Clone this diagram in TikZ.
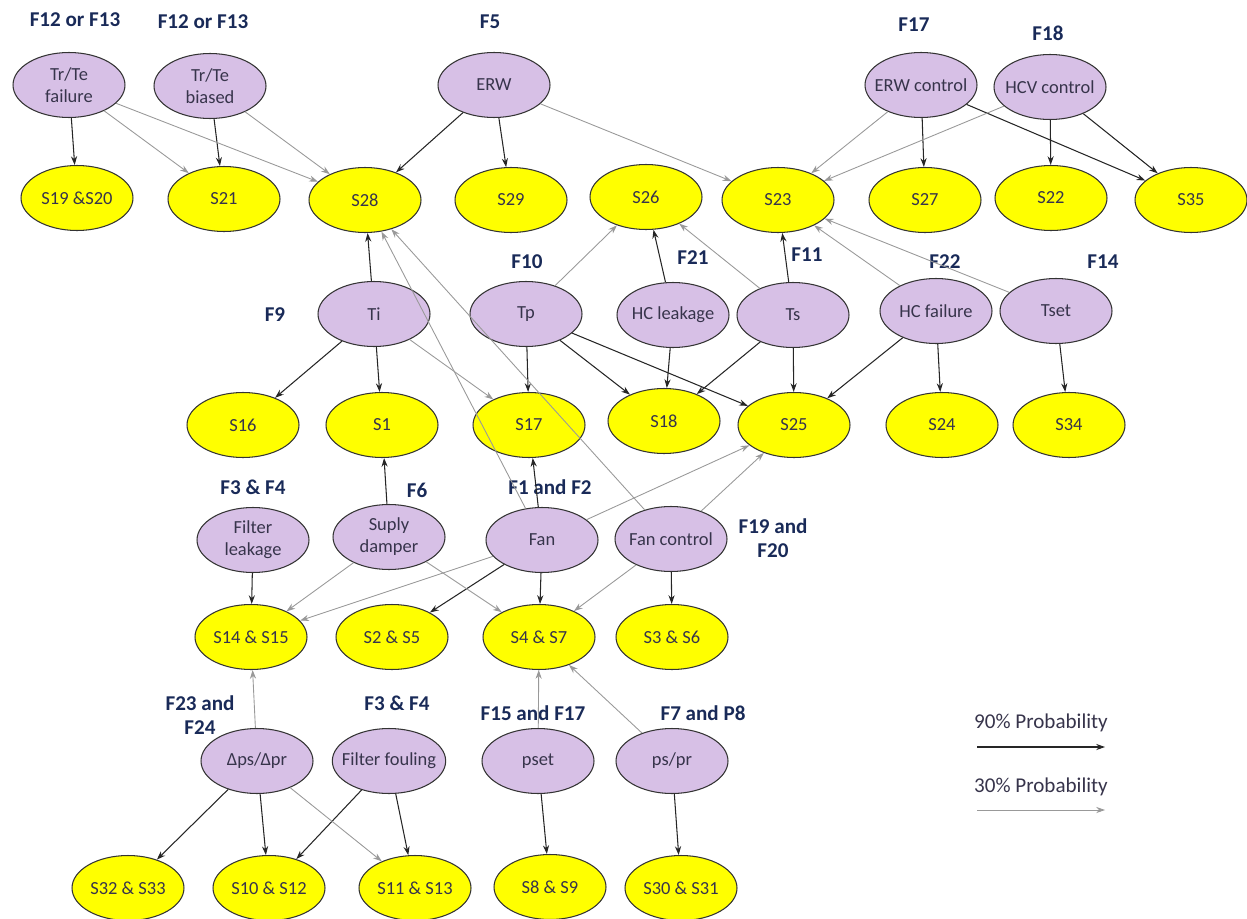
\documentclass[tikz,border=0pt]{standalone}
\usepackage{fontspec}
\setmainfont{Carlito}
\usetikzlibrary{shapes.geometric,arrows.meta}
\definecolor{faultfill}{RGB}{215,192,230}
\definecolor{symfill}{RGB}{255,255,0}
\definecolor{labelblue}{RGB}{25,42,88}
\definecolor{nodetext}{RGB}{55,52,75}
\begin{document}
\begin{tikzpicture}[x=0.02cm,y=-0.02cm,
  fault/.style={ellipse,draw=black!80,fill=faultfill,line width=0.6pt,
    minimum width=2.24cm,minimum height=1.3cm,inner sep=0pt,inner xsep=-4pt,
    align=center,text=nodetext,font=\fontsize{10.5}{12.5}\selectfont},
  symptom/.style={fault,fill=symfill},
  flabel/.style={font=\bfseries\fontsize{12}{14}\selectfont,text=labelblue,align=center},
  p90/.style={-{Stealth[length=5pt,width=3.5pt]},line width=0.6pt,draw=black!85},
  p30/.style={-{Stealth[length=5pt,width=3.5pt]},line width=0.5pt,draw=black!40}]
  \useasboundingbox (0,0) rectangle (1247,919);

  % faults
  \node[fault] (trfail) at (69,85) {Tr/Te\\failure};
  \node[fault] (trbias) at (210,86) {Tr/Te\\biased};
  \node[fault] (erw) at (494,85) {ERW};
  \node[fault] (erwctl) at (921,85) {ERW control};
  \node[fault] (hcvctl) at (1050,87) {HCV control};
  \node[fault] (ti) at (374,314) {Ti};
  \node[fault] (tp) at (526,314) {Tp};
  \node[fault] (hcleak) at (673,315) {HC leakage};
  \node[fault] (ts) at (793,315) {Ts};
  \node[fault] (hcfail) at (936,311) {HC failure};
  \node[fault] (tset) at (1056,311) {Tset};
  \node[fault] (filtleak) at (253,540) {Filter\\leakage};
  \node[fault] (damper) at (389,537) {Suply\\damper};
  \node[fault] (fan) at (542,540) {Fan};
  \node[fault] (fanctl) at (671,539) {Fan control};
  \node[fault] (dp) at (257,761) {Δps/Δpr};
  \node[fault] (filtfoul) at (389,761) {Filter fouling};
  \node[fault] (pset) at (538,761) {pset};
  \node[fault] (pspr) at (672,761) {ps/pr};

  % symptoms
  \node[symptom] (s1920) at (77,198) {S19 \&S20};
  \node[symptom] (s21) at (224,199) {S21};
  \node[symptom] (s28) at (365,200) {S28};
  \node[symptom] (s29) at (511,200) {S29};
  \node[symptom] (s26) at (646,197) {S26};
  \node[symptom] (s23) at (778,200) {S23};
  \node[symptom] (s27) at (925,200) {S27};
  \node[symptom] (s22) at (1051,198) {S22};
  \node[symptom] (s35) at (1191,200) {S35};
  \node[symptom] (s16) at (243,425) {S16};
  \node[symptom] (s1) at (382,425) {S1};
  \node[symptom] (s17) at (529,425) {S17};
  \node[symptom] (s18) at (664,421) {S18};
  \node[symptom] (s25) at (794,425) {S25};
  \node[symptom] (s24) at (942,425) {S24};
  \node[symptom] (s34) at (1069,425) {S34};
  \node[symptom] (s1415) at (251,637) {S14 \& S15};
  \node[symptom] (s0205) at (392,637) {S2 \& S5};
  \node[symptom] (s0407) at (539,637) {S4 \& S7};
  \node[symptom] (s0306) at (672,637) {S3 \& S6};
  \node[symptom] (s3233) at (128,888) {S32 \& S33};
  \node[symptom] (s1012) at (269,888) {S10 \& S12};
  \node[symptom] (s1113) at (415,888) {S11 \& S13};
  \node[symptom] (s0809) at (550,887) {S8 \& S9};
  \node[symptom] (s3031) at (681,888) {S30 \& S31};

  % fault labels
  \node[flabel] (l1) at (75,20) {F12 or F13};
  \node[flabel] (l2) at (203,22) {F12 or F13};
  \node[flabel] (l3) at (490,22) {F5};
  \node[flabel] (l4) at (914,25) {F17};
  \node[flabel] (l5) at (1048,33) {F18};
  \node[flabel] (l6) at (275,315) {F9};
  \node[flabel] (l7) at (527,262) {F10};
  \node[flabel] (l8) at (693,258) {F21};
  \node[flabel] (l9) at (807,255) {F11};
  \node[flabel] (l10) at (945,262) {F22};
  \node[flabel] (l11) at (1103,262) {F14};
  \node[flabel] (l12) at (253,487) {F3 \& F4};
  \node[flabel] (l13) at (417,490) {F6};
  \node[flabel] (l14) at (550,487) {F1 and F2};
  \node[flabel] (l15) at (773,538) {F19 and\\F20};
  \node[flabel] (l16) at (200,715) {F23 and\\F24};
  \node[flabel] (l17) at (397,703) {F3 \& F4};
  \node[flabel] (l18) at (533,713) {F15 and F17};
  \node[flabel] (l19) at (703,713) {F7 and P8};

  % 90% links
  \foreach \a/\b in {trfail/s1920,trbias/s21,erw/s28,erw/s29,erwctl/s27,erwctl/s35,
      hcvctl/s22,hcvctl/s35,ti/s28,ti/s16,ti/s1,tp/s17,tp/s18,tp/s25,hcleak/s26,
      hcleak/s18,ts/s23,ts/s18,ts/s25,hcfail/s25,hcfail/s24,tset/s34,damper/s1,
      fan/s17,fan/s0407,fan/s0205,filtleak/s1415,fanctl/s0306,dp/s3233,dp/s1012,
      filtfoul/s1012,filtfoul/s1113,pset/s0809,pspr/s3031}
    \draw[p90] (\a) -- (\b);

  % 30% links
  \foreach \a/\b in {trfail/s21,trfail/s28,trbias/s28,erw/s23,erwctl/s23,hcvctl/s23,
      ti/s17,tp/s26,ts/s26,hcfail/s23,tset/s23,fan/s28,fanctl/s28,fan/s25,fanctl/s25,
      fan/s1415,damper/s1415,damper/s0407,fanctl/s0407,dp/s1415,dp/s1113,
      pset/s0407,pspr/s0407}
    \draw[p30] (\a) -- (\b);

  % legend
  \node[text=nodetext,font=\fontsize{12}{14}\selectfont] (leg90) at (1041,723) {90\% Probability};
  \node[text=nodetext,font=\fontsize{12}{14}\selectfont] (leg30) at (1041,787) {30\% Probability};
  \coordinate (a90) at (977,747);
  \coordinate (b90) at (1105,747);
  \coordinate (a30) at (977,810);
  \coordinate (b30) at (1105,810);
  \draw[p90] (a90) -- (b90);
  \draw[p30] (a30) -- (b30);
\end{tikzpicture}
\end{document}
